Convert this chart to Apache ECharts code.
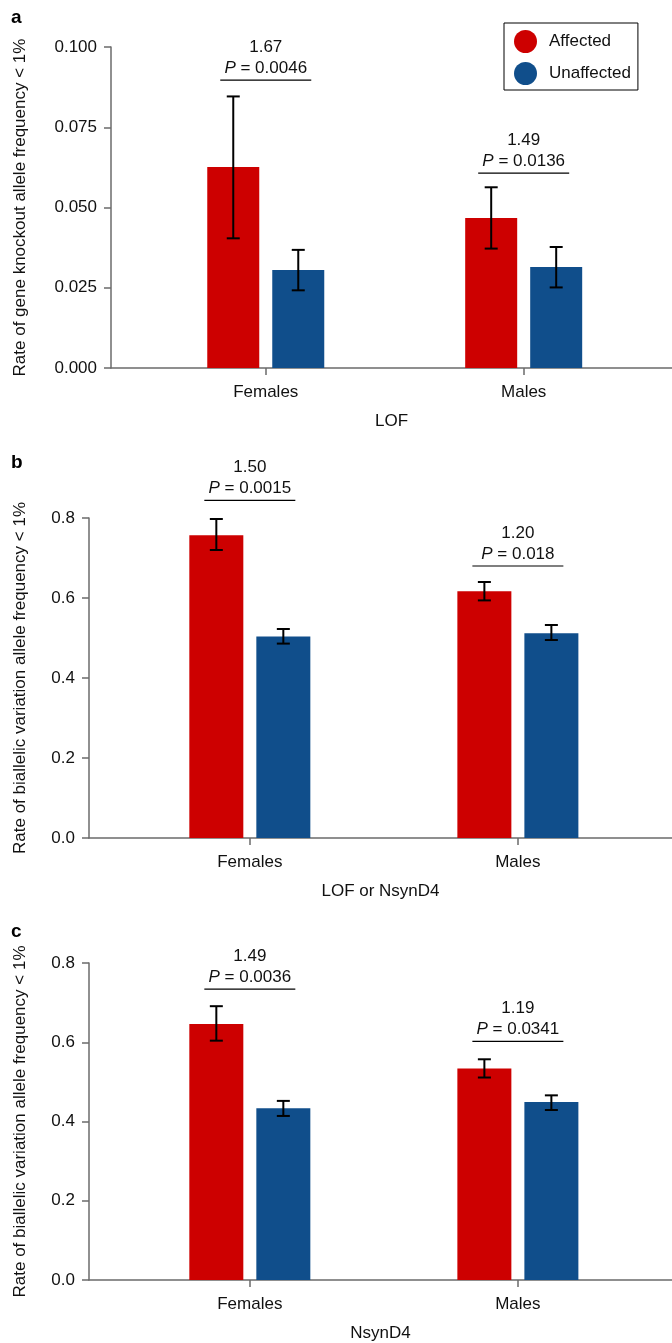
<!DOCTYPE html>
<html><head><meta charset="utf-8">
<script src="https://cdn.jsdelivr.net/npm/echarts@6/dist/echarts.min.js"></script>
<style>html,body{margin:0;padding:0;background:#fff}#c{width:672px;height:1343px}</style>
</head><body><div id="c"></div>
<script>
// ---------- data ----------
const categories = ['Females', 'Males'];
const seriesNames = ['Affected', 'Unaffected'];

// Panel a: LOF
const aAffected = [0.0626, 0.0467];
const aAffectedLo = [0.0404, 0.0372];
const aAffectedHi = [0.0846, 0.0563];
const aUnaffected = [0.0305, 0.0315];
const aUnaffectedLo = [0.0242, 0.0251];
const aUnaffectedHi = [0.0368, 0.0377];
const aRatio = ['1.67', '1.49'];
const aP = ['0.0046', '0.0136'];
const aBracket = [0.0897, 0.0607];

// Panel b: LOF or NsynD4
const bAffected = [0.757, 0.617];
const bAffectedLo = [0.720, 0.594];
const bAffectedHi = [0.7975, 0.640];
const bUnaffected = [0.504, 0.512];
const bUnaffectedLo = [0.486, 0.495];
const bUnaffectedHi = [0.5225, 0.5325];
const bRatio = ['1.50', '1.20'];
const bP = ['0.0015', '0.018'];
const bBracket = [0.844, 0.680];

// Panel c: NsynD4
const cAffected = [0.646, 0.5335];
const cAffectedLo = [0.604, 0.511];
const cAffectedHi = [0.691, 0.557];
const cUnaffected = [0.4335, 0.449];
const cUnaffectedLo = [0.414, 0.429];
const cUnaffectedHi = [0.452, 0.466];
const cRatio = ['1.49', '1.19'];
const cP = ['0.0036', '0.0341'];
const cBracket = [0.734, 0.602];

const panelLetters = ['a', 'b', 'c'];
const xNames = ['LOF', 'LOF or NsynD4', 'NsynD4'];
const yNames = ['Rate of gene knockout allele frequency < 1%',
                'Rate of biallelic variation allele frequency < 1%',
                'Rate of biallelic variation allele frequency < 1%'];
const yMax = [0.1, 0.8, 0.8];
const yInterval = [0.025, 0.2, 0.2];
const yDecimals = [3, 1, 1];

// ---------- styling ----------
const FONT = '"Liberation Sans", Arial, Helvetica, sans-serif';
const RED = '#CD0000', BLUE = '#104E8B', AXIS = '#6b6b6b', TXT = '#111';

const panels = [
  {aff: aAffected, affLo: aAffectedLo, affHi: aAffectedHi, un: aUnaffected, unLo: aUnaffectedLo, unHi: aUnaffectedHi, ratio: aRatio, p: aP, br: aBracket},
  {aff: bAffected, affLo: bAffectedLo, affHi: bAffectedHi, un: bUnaffected, unLo: bUnaffectedLo, unHi: bUnaffectedHi, ratio: bRatio, p: bP, br: bBracket},
  {aff: cAffected, affLo: cAffectedLo, affHi: cAffectedHi, un: cUnaffected, unLo: cUnaffectedLo, unHi: cUnaffectedHi, ratio: cRatio, p: cP, br: cBracket}
];
const layout = [
  {left: 111, top: 47, height: 321, barW: 52, yGap: 82, letterTop: 8},
  {left: 89, top: 518, height: 320, barW: 54, yGap: 60, letterTop: 453},
  {left: 89, top: 963, height: 320, barW: 54, yGap: 60, letterTop: 922}
];
const GAP = 13;

function errRender(offset) {
  return function (params, api) {
    const x = api.value(0), lo = api.value(1), hi = api.value(2);
    const pLo = api.coord([x, lo]), pHi = api.coord([x, hi]);
    const cx = pLo[0] + offset, cap = 6.5;
    const st = {stroke: '#000', lineWidth: 2};
    return {type: 'group', children: [
      {type: 'line', shape: {x1: cx, y1: pHi[1], x2: cx, y2: pLo[1]}, style: st},
      {type: 'line', shape: {x1: cx - cap, y1: pHi[1], x2: cx + cap, y2: pHi[1]}, style: st},
      {type: 'line', shape: {x1: cx - cap, y1: pLo[1], x2: cx + cap, y2: pLo[1]}, style: st}
    ]};
  };
}
function annRender(ratios, ps) {
  return function (params, api) {
    const p = api.coord([api.value(0), api.value(1)]);
    const i = params.dataIndex;
    return {type: 'group', children: [
      {type: 'line', shape: {x1: p[0] - 45.5, y1: p[1], x2: p[0] + 45.5, y2: p[1]}, style: {stroke: '#000', lineWidth: 1.2}},
      {type: 'text', x: p[0], y: p[1] - 12, style: {
        text: '{i|P} = ' + ps[i], align: 'center', verticalAlign: 'middle',
        fontSize: 17, fontFamily: FONT, fill: TXT,
        rich: {i: {fontStyle: 'italic', fontSize: 17, fontFamily: FONT, fill: TXT}}
      }},
      {type: 'text', x: p[0], y: p[1] - 33, style: {
        text: ratios[i], align: 'center', verticalAlign: 'middle',
        fontSize: 17, fontFamily: FONT, fill: TXT
      }}
    ]};
  };
}

const grids = [], xAxes = [], yAxes = [], series = [], titles = [];
panels.forEach((pd, k) => {
  const L = layout[k];
  grids.push({left: L.left, right: 0, top: L.top, height: L.height});
  titles.push({text: panelLetters[k], left: 11, top: L.letterTop, padding: 0,
    textStyle: {fontSize: 19, fontWeight: 'bold', fontFamily: FONT, color: '#000'}});
  xAxes.push({
    type: 'value', gridIndex: k, min: -0.6, max: 1.575,
    name: xNames[k], nameLocation: 'middle', nameGap: 45,
    nameTextStyle: {fontSize: 17, fontFamily: FONT, color: TXT},
    axisLine: {show: true, onZero: false, lineStyle: {color: AXIS, width: 1.5}},
    axisTick: {show: true, length: 7, customValues: [0, 1], lineStyle: {color: AXIS, width: 1.5}},
    axisLabel: {customValues: [0, 1], margin: 16, fontSize: 17, fontFamily: FONT, color: TXT,
      formatter: v => categories[Math.round(v)]},
    splitLine: {show: false}
  });
  yAxes.push({
    type: 'value', gridIndex: k, min: 0, max: yMax[k], interval: yInterval[k],
    name: yNames[k], nameLocation: 'middle', nameGap: L.yGap, nameRotate: 90,
    nameTextStyle: {fontSize: 17, fontFamily: FONT, color: TXT},
    axisLine: {show: true, onZero: false, lineStyle: {color: AXIS, width: 1.5}},
    axisTick: {show: true, length: 7, lineStyle: {color: AXIS, width: 1.5}},
    axisLabel: {margin: 14, fontSize: 17, fontFamily: FONT, color: TXT,
      formatter: v => v.toFixed(yDecimals[k])},
    splitLine: {show: false}
  });
  const off = (L.barW + GAP) / 2;
  const gapPct = (GAP / L.barW * 100).toFixed(1) + '%';
  series.push({
    type: 'bar', name: seriesNames[0], xAxisIndex: k, yAxisIndex: k,
    barWidth: L.barW, barGap: gapPct, itemStyle: {color: RED},
    data: pd.aff.map((v, i) => [i, v])
  });
  series.push({
    type: 'bar', name: seriesNames[1], xAxisIndex: k, yAxisIndex: k,
    barWidth: L.barW, barGap: gapPct, itemStyle: {color: BLUE},
    data: pd.un.map((v, i) => [i, v])
  });
  series.push({
    type: 'custom', name: 'errA' + k, xAxisIndex: k, yAxisIndex: k, z: 5, silent: true,
    renderItem: errRender(-off), data: pd.affLo.map((v, i) => [i, v, pd.affHi[i]])
  });
  series.push({
    type: 'custom', name: 'errU' + k, xAxisIndex: k, yAxisIndex: k, z: 5, silent: true,
    renderItem: errRender(off), data: pd.unLo.map((v, i) => [i, v, pd.unHi[i]])
  });
  series.push({
    type: 'custom', name: 'ann' + k, xAxisIndex: k, yAxisIndex: k, z: 5, silent: true, clip: false,
    renderItem: annRender(pd.ratio, pd.p), data: pd.br.map((v, i) => [i, v])
  });
});

const chart = echarts.init(document.getElementById('c'), null, {renderer: 'canvas'});
chart.setOption({
  animation: false,
  backgroundColor: '#fff',
  title: titles,
  legend: {
    data: seriesNames, orient: 'vertical', left: 504, top: 23,
    icon: 'circle', itemWidth: 23, itemHeight: 23, itemGap: 9,
    borderColor: '#000', borderWidth: 1, padding: [7, 7, 5, 10],
    selectedMode: false,
    textStyle: {fontSize: 17, fontFamily: FONT, color: TXT, padding: [0, 0, 0, 7]}
  },
  grid: grids, xAxis: xAxes, yAxis: yAxes, series: series
});
</script></body></html>
